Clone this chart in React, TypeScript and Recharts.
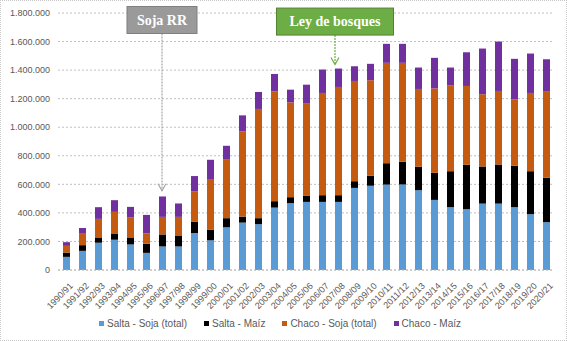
import { BarChart, Bar, XAxis, YAxis, CartesianGrid, Legend, ReferenceLine } from "recharts";

const categories = [
  "1990/91", "1991/92", "1992/93", "1993/94", "1994/95", "1995/96", "1996/97", "1997/98",
  "1998/99", "1999/00", "2000/01", "2001/02", "2002/03", "2003/04", "2004/05", "2005/06",
  "2006/07", "2007/08", "2008/09", "2009/10", "2010/11", "2011/12", "2012/13", "2013/14",
  "2014/15", "2015/16", "2016/17", "2017/18", "2018/19", "2019/20", "2020/21",
];

// hectáreas
const saltaSoja = [
  92000, 134000, 191000, 212000, 179000, 120000, 165000, 165000, 259000, 208000, 299000,
  332000, 321000, 437000, 468000, 477000, 477000, 477000, 575000, 590000, 598000, 599000,
  559000, 491000, 440000, 426000, 465000, 465000, 440000, 391000, 335000,
];
const saltaMaiz = [
  30000, 40000, 37000, 44000, 49000, 64000, 84000, 77000, 80000, 73000, 64000,
  42000, 42000, 45000, 42000, 42000, 47000, 47000, 47000, 70000, 150000, 159000,
  164000, 190000, 252000, 311000, 260000, 274000, 290000, 301000, 311000,
];
const chacoSoja = [
  47000, 80000, 130000, 151000, 139000, 72000, 123000, 130000, 213000, 351000, 414000,
  597000, 765000, 769000, 664000, 646000, 716000, 758000, 702000, 669000, 703000, 693000,
  545000, 591000, 602000, 552000, 506000, 515000, 465000, 548000, 603000,
];
const chacoMaiz = [
  26000, 40000, 82000, 82000, 75000, 130000, 143000, 94000, 106000, 140000, 93000,
  112000, 119000, 122000, 89000, 133000, 164000, 129000, 103000, 115000, 133000, 133000,
  150000, 214000, 124000, 236000, 320000, 346000, 284000, 276000, 227000,
];

const yTicks = [0, 200000, 400000, 600000, 800000, 1000000, 1200000, 1400000, 1600000, 1800000];

const data = categories.map((name, i) => ({
  name,
  saltaSoja: saltaSoja[i],
  saltaMaiz: saltaMaiz[i],
  chacoSoja: chacoSoja[i],
  chacoMaiz: chacoMaiz[i],
}));

const total = (cat: string) => {
  const i = categories.indexOf(cat);
  return saltaSoja[i] + saltaMaiz[i] + chacoSoja[i] + chacoMaiz[i];
};

const series = [
  { key: "saltaSoja", name: "Salta - Soja (total)", color: "#5B9BD5" },
  { key: "saltaMaiz", name: "Salta - Maíz", color: "#000000" },
  { key: "chacoSoja", name: "Chaco - Soja (total)", color: "#C55A11" },
  { key: "chacoMaiz", name: "Chaco - Maíz", color: "#7030A0" },
];

const fmt = (v: number) => String(v).replace(/\B(?=(\d{3})+(?!\d))/g, ".");

const FONT = "'Liberation Sans', Arial, sans-serif";

function XTick({ x, y, payload }: any) {
  return (
    <text
      x={x + 3}
      y={y + 4}
      transform={`rotate(-45 ${x + 3} ${y + 4})`}
      textAnchor="end"
      fontSize={9}
      fontFamily={FONT}
      fill="#595959"
      dy="0.7em"
    >
      {payload.value}
    </text>
  );
}

function LegendContent() {
  return (
    <div style={{ display: "flex", justifyContent: "center", gap: 17, fontFamily: FONT, fontSize: 10, color: "#595959", paddingLeft: 2, paddingTop: 6 }}>
      {series.map((s) => (
        <span key={s.key} style={{ display: "flex", alignItems: "center" }}>
          <span style={{ width: 5, height: 5, background: s.color, marginRight: 3, display: "inline-block" }} />
          {s.name}
        </span>
      ))}
    </div>
  );
}

function annotation(label: string, boxW: number, fill: string, border: string, lineColor: string, dx: number) {
  return (props: any) => {
    const { x1, y1, y2 } = props;
    const cx = x1 + dx;
    const boxH = 27;
    const top = y1 - boxH / 2;
    return (
      <g>
        <line x1={cx} y1={top + boxH} x2={cx} y2={y2} stroke={lineColor} strokeWidth={1.2} strokeDasharray="2 1" />
        <polyline points={`${cx - 4},${y2 - 7} ${cx},${y2} ${cx + 4},${y2 - 7}`} fill="none" stroke={lineColor} strokeWidth={1.2} />
        <rect x={cx - boxW / 2} y={top} width={boxW} height={boxH} fill={fill} stroke={border} strokeWidth={1} />
        <text
          x={cx}
          y={top + boxH / 2}
          dy="0.35em"
          textAnchor="middle"
          fontFamily="'Liberation Serif', 'Times New Roman', serif"
          fontWeight="bold"
          fontSize={14}
          fill="#FFFFFF"
        >
          {label}
        </text>
      </g>
    );
  };
}

export default function App() {
  return (
    <div style={{ position: "absolute", left: 0, top: 0, width: 567, height: 341 }}>
      <BarChart
        width={567}
        height={341}
        data={data}
        margin={{ top: 13, right: 13, left: 4, bottom: 5 }}
        barSize={7}
      >
        <CartesianGrid vertical={false} stroke="#BFBFBF" strokeDasharray="2 2" />
        <XAxis
          dataKey="name"
          interval={0}
          tickLine={false}
          axisLine={{ stroke: "#BFBFBF", strokeDasharray: "2 2" }}
          height={42}
          tick={<XTick />}
        />
        <YAxis
          domain={[0, 1800000]}
          ticks={yTicks}
          width={54}
          tickLine={false}
          axisLine={false}
          tickFormatter={fmt}
          tick={{ fontSize: 9, fontFamily: FONT, fill: "#595959" }}
        />
        <Legend verticalAlign="bottom" height={24} content={<LegendContent />} />
        {series.map((s) => (
          <Bar key={s.key} dataKey={s.key} name={s.name} stackId="a" fill={s.color} isAnimationActive={false} />
        ))}
        <ReferenceLine
          ifOverflow="visible"
          segment={[
            { x: "1996/97", y: 1751000 },
            { x: "1996/97", y: total("1996/97") + 40000 },
          ]}
          shape={annotation("Soja RR", 70, "#9A9A9A", "#7F7F7F", "#A6A6A6", 0)}
        />
        <ReferenceLine
          ifOverflow="visible"
          segment={[
            { x: "2007/08", y: 1740000 },
            { x: "2007/08", y: total("2007/08") + 28000 },
          ]}
          shape={annotation("Ley de bosques", 117, "#6DAD45", "#548235", "#70AD47", -3)}
        />
      </BarChart>
      <div
        style={{
          position: "absolute",
          left: 0,
          top: 0,
          width: 567,
          height: 341,
          boxSizing: "border-box",
          border: "1px dotted #C8C8C8",
          pointerEvents: "none",
        }}
      />
    </div>
  );
}
